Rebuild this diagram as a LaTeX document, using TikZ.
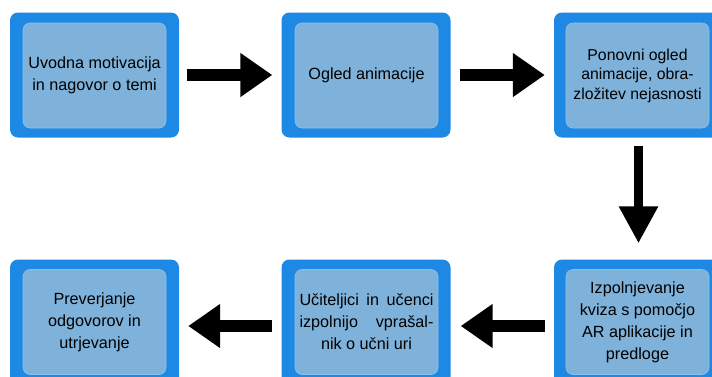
\documentclass[tikz,border=0pt]{standalone}
\usepackage{fontspec}
\setmainfont{Liberation Sans}
\usetikzlibrary{arrows.meta}
\definecolor{outerblue}{RGB}{30,136,229}
\definecolor{innerblue}{RGB}{127,178,218}
\definecolor{innerline}{RGB}{145,192,230}
\tikzset{
  outerbox/.style={fill=outerblue, rounded corners=8pt, minimum width=169pt, minimum height=125pt, inner sep=0pt},
  innerbox/.style={fill=innerblue, draw=innerline, line width=0.6pt, rounded corners=7pt, minimum width=143pt, minimum height=105pt, inner sep=0pt, align=center, font=\fontsize{16.2}{22}\selectfont},
  harrow/.style={line width=12.5pt, -{Triangle[length=32pt,width=42pt]}},
  varrow/.style={line width=9pt, -{Triangle[length=37pt,width=37pt]}}
}
\begin{document}
\begin{tikzpicture}[x=1pt,y=-1pt]
\useasboundingbox (0,0) rectangle (712,376);
\clip (0,0) rectangle (712,376);
\fill[white] (0,0) rectangle (712,376);
% top row
\node[outerbox] (b1) at (94.5,75) {};
\node[innerbox] (i1) at (94.5,75.5) {Uvodna motivacija\\in nagovor o temi};
\node[outerbox] (b2) at (366,75) {};
\node[innerbox] (i2) at (366.5,75.5) {Ogled animacije};
\node[outerbox] (b3) at (638.5,75) {};
\node[innerbox, font=\fontsize{15.8}{19.5}\selectfont] (i3) at (637.5,75.5) {Ponovni ogled\\animacije, obra-\\zložitev nejasnosti};
% bottom row
\node[outerbox] (b6) at (638.5,322) {};
\node[innerbox] (i6) at (637.5,322) {Izpolnjevanje\\kviza s pomočjo\\AR aplikacije in\\predloge};
\node[outerbox] (b5) at (366,322) {};
\node[innerbox] (i5) at (366.5,322) {\hbox to 134pt{Učiteljici\hfill in\hfill učenci}\\\hbox to 134pt{izpolnijo\hfill vprašal-}\\nik o učni uri};
\node[outerbox] (b4) at (94.5,322) {};
\node[innerbox] (i4) at (94.5,322) {Preverjanje\\odgovorov in\\utrjevanje};
% arrows
\draw[harrow] ([xshift=8pt]b1.east) -- ([xshift=-9pt]b2.west);
\draw[harrow] ([xshift=9pt]b2.east) -- ([xshift=-9pt]b3.west);
\draw[varrow] ([yshift=-8pt]b3.south) -- ([yshift=16pt]b6.north);
\draw[harrow] ([xshift=-9pt,yshift=-4pt]b6.west) -- ([xshift=10pt,yshift=-4pt]b5.east);
\draw[harrow] ([xshift=-9pt,yshift=-4pt]b5.west) -- ([xshift=9pt,yshift=-4pt]b4.east);
\end{tikzpicture}
\end{document}
